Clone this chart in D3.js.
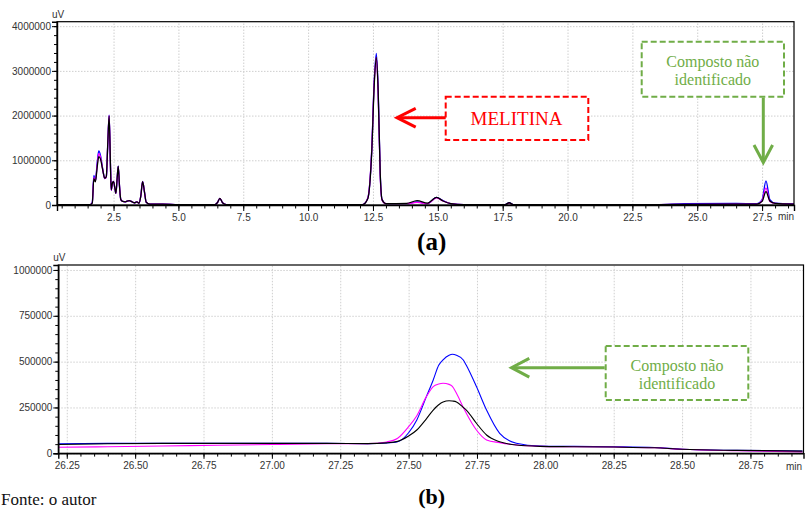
<!DOCTYPE html>
<html><head><meta charset="utf-8">
<script src="https://cdn.jsdelivr.net/npm/d3@7"></script>
<style>
body{margin:0;background:#fff;}
svg{display:block;}
.tick text{font-family:Arial,"Liberation Sans",sans-serif;font-size:10px;fill:#333;}
.grid line{stroke:#cfcfcf;stroke-dasharray:1.5,1.5;}
.grid path{display:none;}
</style>
</head><body>
<svg id="c" width="805" height="509"></svg>
<script>
// ---- Panel (a): full chromatogram ----
const topTimes = [0.32,1.00,1.60,1.68,1.74,1.80,1.87,1.93,2.00,2.08,2.16,2.22,2.28,2.33,2.38,2.41,2.46,2.50,2.55,2.59,2.64,2.68,2.73,2.78,2.85,2.95,3.10,3.22,3.30,3.40,3.48,3.55,3.62,3.69,3.76,3.90,4.40,5.00,6.40,6.50,6.60,6.70,6.85,12.10,12.30,12.45,12.55,12.63,12.70,12.78,12.85,13.00,13.80,14.20,14.60,14.95,15.20,15.50,16.00,17.60,17.75,17.90,23.50,24.50,26.50,27.30,27.50,27.65,27.80,28.00,28.73];
const topBlue = [10,8,10,60,660,540,950,1210,1100,820,590,620,1400,2010,900,330,490,530,380,260,600,870,420,120,80,70,100,70,50,70,40,200,530,300,60,20,20,10,10,50,150,50,10,10,150,1200,2800,3390,2600,700,120,30,30,70,30,170,100,30,10,10,50,10,10,30,35,30,120,540,120,40,25];
const topMagenta = [10,8,10,50,620,530,900,1150,1060,800,590,620,1400,2000,900,330,490,530,380,260,600,860,420,120,80,70,100,70,50,70,40,200,520,300,60,20,20,10,10,50,150,50,10,10,150,1200,2750,3300,2500,650,110,30,30,60,30,160,90,30,10,10,40,10,10,15,20,20,100,380,80,35,20];
const topBlack = [10,8,10,40,590,520,850,1080,1020,790,600,640,1420,1990,920,340,500,520,380,260,610,870,420,120,80,70,100,70,50,70,40,200,520,300,60,20,20,10,10,50,150,50,10,10,140,1150,2700,3300,2550,700,120,30,35,100,40,170,90,30,10,10,50,10,10,15,20,20,80,300,90,35,20];
const topXTicks = [2.5,5.0,7.5,10.0,12.5,15.0,17.5,20.0,22.5,25.0,27.5];
const topYTicks = [0,1000000,2000000,3000000,4000000];

// ---- Panel (b): zoom 26.2 - 28.9 min ----
const botTimes = [26.22,26.40,26.60,26.80,27.00,27.20,27.35,27.42,27.46,27.50,27.53,27.565,27.59,27.61,27.626,27.648,27.66,27.675,27.70,27.711,27.748,27.785,27.833,27.894,27.98,28.10,28.25,28.40,28.50,28.70,28.94];
const botBlue =    [52,54,55,54,54,54,53,56,63,112,182,309,400,480,510,535,540,535,509,480,364,236,109,55,40,38,36,32,22,16,12];
const botMagenta = [33,36,40,44,48,52,53,62,82,145,205,309,364,378,382,376,365,327,250,218,127,73,58,45,38,36,34,30,22,14,8];
const botBlack =   [48,52,54,54,54,54,53,57,65,94,127,188,236,265,280,287,285,280,250,236,164,100,63,45,38,36,34,30,22,16,12];
const botXTicks = [26.25,26.50,26.75,27.00,27.25,27.50,27.75,28.00,28.25,28.50,28.75];
const botYTicks = [0,250000,500000,750000,1000000];

const seriesColors = ["#0000ff","#ff00ff","#000000"];

const svg = d3.select("#c");

function panel(o){
  const g = svg.append("g");
  const x = d3.scaleLinear().domain(o.xDomain).range([o.left,o.right]);
  const y = d3.scaleLinear().domain(o.yDomain).range([o.bottom,o.top]);
  // grid
  g.append("g").attr("class","grid").attr("transform",`translate(0,${o.bottom})`)
    .call(d3.axisBottom(x).tickValues(o.xTicks).tickSize(-(o.bottom-o.top)).tickFormat(""));
  g.append("g").attr("class","grid").attr("transform",`translate(${o.left},0)`)
    .call(d3.axisLeft(y).tickValues(o.yTicks).tickSize(-(o.right-o.left)).tickFormat(""));
  // series
  const line = d3.line().curve(d3.curveMonotoneX);
  o.series.forEach((vals,i)=>{
    g.append("path")
      .attr("d", line(o.times.map((t,j)=>[x(t), y(vals[j]*1000)])))
      .attr("fill","none").attr("stroke",seriesColors[i]).attr("stroke-width",o.lw)
      .attr("stroke-linejoin","round");
  });
  // frame
  g.append("rect").attr("x",o.left).attr("y",o.top).attr("width",o.right-o.left).attr("height",o.bottom-o.top)
    .attr("fill","none").attr("stroke","#000").attr("stroke-width",1.2);
  // minor ticks
  const xm = g.append("g").attr("transform",`translate(0,${o.bottom})`)
    .call(d3.axisBottom(x).tickValues(o.xMinor).tickSize(o.xMinorLen).tickFormat(""));
  xm.select(".domain").remove();
  const ym = g.append("g").attr("transform",`translate(${o.left},0)`)
    .call(d3.axisLeft(y).tickValues(o.yMinor).tickSize(3).tickFormat(""));
  ym.select(".domain").remove();
  // major axes
  const xa = g.append("g").attr("transform",`translate(0,${o.bottom})`)
    .call(d3.axisBottom(x).tickValues(o.xTicks).tickSize(o.xMajorLen).tickPadding(o.xPad).tickFormat(o.xFmt));
  xa.select(".domain").attr("stroke-width",1.4);
  const ya = g.append("g").attr("transform",`translate(${o.left},0)`)
    .call(d3.axisLeft(y).tickValues(o.yTicks).tickSize(5).tickPadding(1).tickFormat(d3.format("d")));
  ya.select(".domain").attr("stroke-width",1.4);
  g.selectAll(".tick line").attr("stroke","#000");
  // units
  g.append("text").attr("x",o.left-5).attr("y",o.top-4).text("uV")
    .attr("font-family","Arial,'Liberation Sans',sans-serif").attr("font-size",10).attr("fill","#333");
  g.append("text").attr("x",o.minX).attr("y",o.minY).text("min")
    .attr("font-family","Arial,'Liberation Sans',sans-serif").attr("font-size",10).attr("fill","#333");
  return {x,y,g};
}

const xMinorTop = d3.range(1,58).map(i=>i*0.5).filter(v=>v<28.7);
const yMinorTop = d3.range(0,21).map(i=>i*200000);
panel({xDomain:[0.32,28.73], yDomain:[0,4100000], left:57, right:794, top:21.7, bottom:205,
  xTicks:topXTicks, yTicks:topYTicks, xMinor:xMinorTop, yMinor:yMinorTop,
  xFmt:d3.format(".1f"), xMajorLen:6, xMinorLen:3.5, xPad:3,
  times:topTimes, series:[topBlue,topMagenta,topBlack], lw:1.3, minX:778, minY:220});

const xMinorBot = d3.range(0,55).map(i=>+(26.25+i*0.05).toFixed(2)).filter(v=>v<28.94);
const yMinorBot = d3.range(0,21).map(i=>i*50000);
panel({xDomain:[26.219,28.944], yDomain:[0,1027000], left:58.3, right:803.5, top:265, bottom:453.3,
  xTicks:botXTicks, yTicks:botYTicks, xMinor:xMinorBot, yMinor:yMinorBot,
  xFmt:d3.format(".2f"), xMajorLen:5.5, xMinorLen:3.3, xPad:3,
  times:botTimes, series:[botBlue,botMagenta,botBlack], lw:1.1, minX:786, minY:470});

// ---- annotations ----
const serif = "'Liberation Serif','Times New Roman',Times,serif";
const red = "#ff0000", green = "#70ad47";
function box(x0,y0,x1,y1,c){
  svg.append("rect").attr("x",x0).attr("y",y0).attr("width",x1-x0).attr("height",y1-y0)
    .attr("fill","#fff").attr("stroke",c).attr("stroke-width",2).attr("stroke-dasharray","6,3");
}
function txt(x,y,s,c,fs){
  svg.append("text").attr("x",x).attr("y",y).attr("text-anchor","middle").text(s)
    .attr("font-family",serif).attr("font-size",fs).attr("fill",c);
}
function pl(pts,c){
  svg.append("path").attr("d",d3.line()(pts)).attr("fill","none").attr("stroke",c)
    .attr("stroke-width",3).attr("stroke-linejoin","miter");
}
// MELITINA
box(445.7,96.7,588.3,140,red);
txt(516.5,125,"MELITINA",red,19);
pl([[445.7,117.7],[398,117.7]],red);
pl([[415.7,108.3],[397,117.7],[415.7,127.1]],red);
// Composto (a)
box(641.7,41.7,784,96.7,green);
txt(712.8,66.5,"Composto não",green,16);
txt(712.8,85,"identificado",green,16);
pl([[763.3,97.7],[763.3,161]],green);
pl([[754,145],[763.3,162.5],[772.6,145]],green);
// Composto (b)
box(605.7,346,748.3,400,green);
txt(677,370.5,"Composto não",green,16);
txt(677,389,"identificado",green,16);
pl([[604.7,367.7],[513,367.7]],green);
pl([[529.3,358.3],[511.5,367.7],[529.3,377.1]],green);

// panel labels
svg.append("text").attr("x",431.7).attr("y",250).attr("text-anchor","middle").text("(a)")
  .attr("font-family",serif).attr("font-size",25).attr("font-weight","bold");
svg.append("text").attr("x",431.7).attr("y",503.5).attr("text-anchor","middle").text("(b)")
  .attr("font-family",serif).attr("font-size",22).attr("font-weight","bold");
// source
svg.append("text").attr("x",1).attr("y",505).attr("text-anchor","start").text("Fonte: o autor")
  .attr("font-family",serif).attr("font-size",17).attr("fill","#111");
</script>
</body></html>
